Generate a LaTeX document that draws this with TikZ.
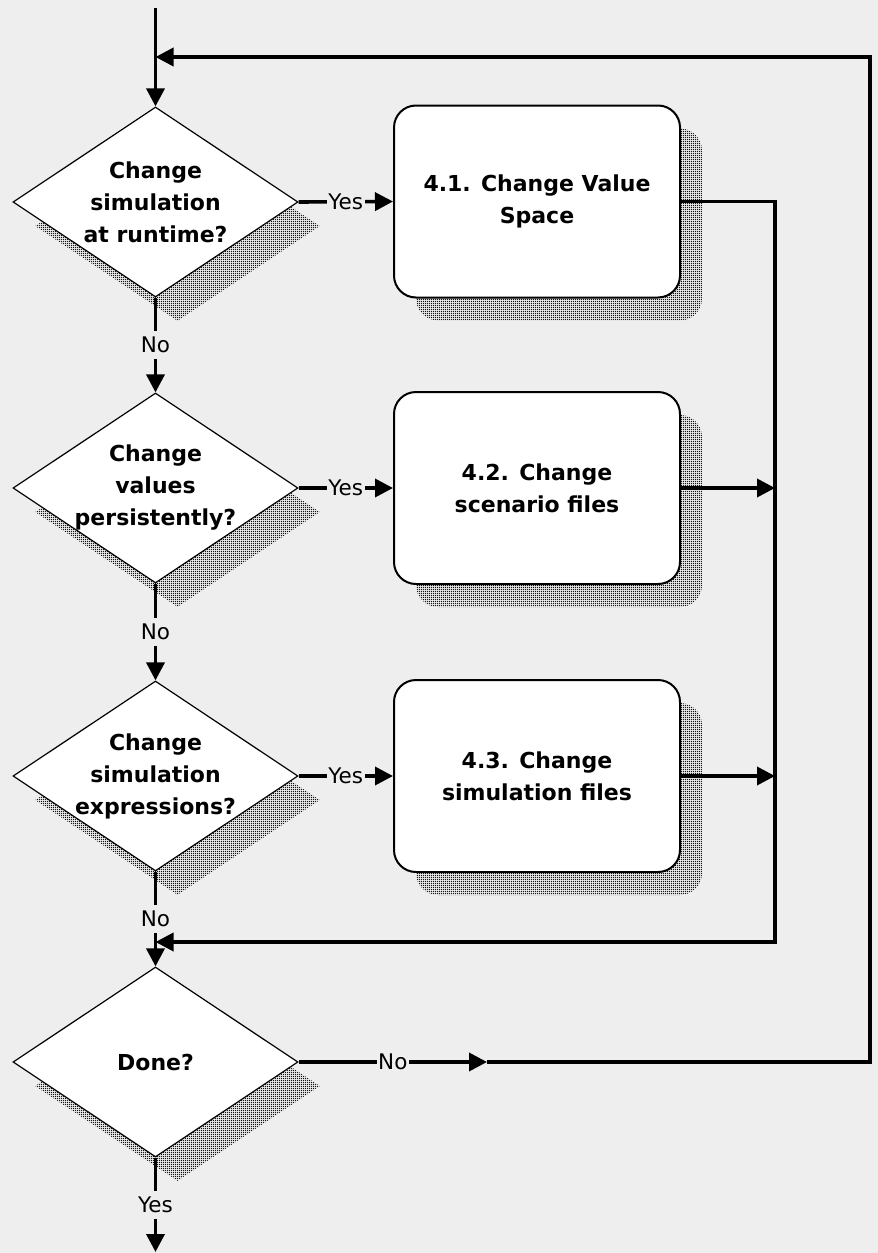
\documentclass[tikz,border=0pt]{standalone}
\usepackage{fontspec}
\setmainfont{DejaVu Sans}
\usetikzlibrary{shapes.geometric,shadows,arrows.meta,patterns}
\definecolor{bg}{RGB}{238,238,238}
\definecolor{shd}{RGB}{20,20,20}
\pgfdeclarepatternformonly{sdots}{\pgfpointorigin}{\pgfqpoint{2.4pt}{2.4pt}}{\pgfqpoint{2.4pt}{2.4pt}}{%
  \pgfpathrectangle{\pgfpointorigin}{\pgfqpoint{1.5pt}{1.5pt}}\pgfusepath{fill}}
\begin{document}
\begin{tikzpicture}[x=1pt,y=-1pt,
  dia/.style={shape=diamond, draw=black, line width=1.2pt, fill=white,
    minimum width=285pt, minimum height=190pt, inner sep=0pt,
    drop shadow={shadow xshift=22pt, shadow yshift=-24pt, pattern=sdots, pattern color=shd, opacity=1}},
  dtext/.style={align=center, inner sep=0pt, font=\bfseries\fontsize{22}{32}\selectfont},
  box/.style={draw=black, line width=2pt, fill=white, rounded corners=22pt,
    minimum width=286pt, minimum height=192pt, align=center,
    font=\bfseries\fontsize{22}{32}\selectfont,
    drop shadow={shadow xshift=22pt, shadow yshift=-23pt, pattern=sdots, pattern color=shd, opacity=1}},
  line/.style={line width=3.6pt},
  arr/.style={line width=3.6pt, -{Triangle[length=18pt,width=18pt]}},
  hlab/.style={fill=bg, inner xsep=1.5pt, inner ysep=1pt, font=\fontsize{21.5}{24}\selectfont},
  vlab/.style={fill=bg, inner xsep=1pt, inner ysep=6pt, font=\fontsize{21.5}{24}\selectfont}
]
\fill[bg] (0,0) rectangle (878,1253);
\useasboundingbox (0,0) rectangle (878,1253);

% decisions
\node[dia] (d1) at (155.5,202) {};
\node[dtext] (t1) at (d1.center) {Change\\simulation\\at runtime?};
\node[dia] (d2) at (155.5,488) {};
\node[dtext] (t2) at (d2.center) {Change\\values\\persistently?};
\node[dia] (d3) at (155.5,776) {};
\node[dtext] (t3) at (d3.center) {Change\\simulation\\expressions?};
\node[dia] (d4) at (155.5,1062) {};
\node[dtext] (t4) at (d4.center) {Done?};

% processes
\node[box] (b1) at (537,201.5) {4.1. Change Value\\Space};
\node[box] (b2) at (537,488) {4.2. Change\\scenario files};
\node[box] (b3) at (537,776) {4.3. Change\\simulation files};

% coordinates
\coordinate (start) at (155.5,8);
\coordinate (j1) at (155.5,57);
\coordinate (fb1) at (870,1062);
\coordinate (fb2) at (870,57);
\coordinate (m) at (487,1062);
\coordinate (r2) at (775,942);
\coordinate (j2) at (155.5,942);
\coordinate (end) at (155.5,1252);

% connectors
\draw[arr] (start) -- (d1.north);
\draw[arr] (d1.east) -- node[hlab]{Yes} (b1.west);
\draw[arr] (d2.east) -- node[hlab]{Yes} (b2.west);
\draw[arr] (d3.east) -- node[hlab]{Yes} (b3.west);
\draw[arr] (d1.south) -- node[vlab]{No} (d2.north);
\draw[arr] (d2.south) -- node[vlab]{No} (d3.north);
\draw[arr] (d3.south) -- node[vlab]{No} (d4.north);
\draw[arr] (d4.south) -- node[vlab]{Yes} (end);

\draw[arr] (b1.east) -| (r2) -- (j2);
\draw[arr] (b2.east) -- (b2.east -| r2);
\draw[arr] (b3.east) -- (b3.east -| r2);

\draw[arr] (d4.east) -- node[hlab]{No} (m);
\draw[arr, line join=miter] (m) -- (fb1) -- (fb2) -- (j1);
\end{tikzpicture}
\end{document}
